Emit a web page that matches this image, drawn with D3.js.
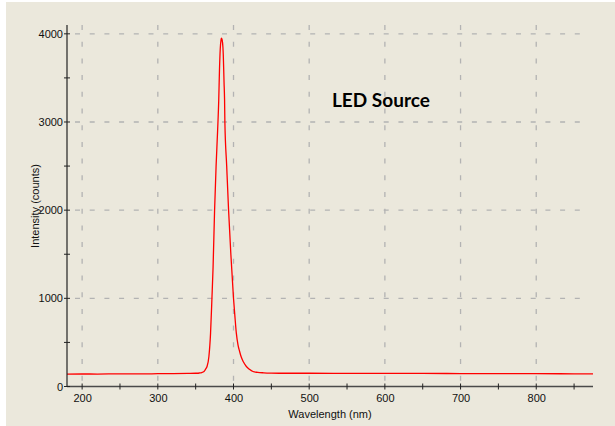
<!DOCTYPE html>
<html>
<head>
<meta charset="utf-8">
<script src="https://cdn.jsdelivr.net/npm/d3@7"></script>
<style>
  body { margin: 0; background: #fff; }
</style>
</head>
<body>
<div id="root"></div>
<script>
const WIDTH = 615;
const HEIGHT = 426;
const PLOT = {left: 67, right: 593, top: 25, bottom: 386.5};
const FONT = "Tahoma, 'Liberation Sans', Arial, sans-serif";

// spectrum (nm, counts)
const wavelengths = [180, 200, 220, 250, 280, 300, 320, 340, 350, 355, 358, 361, 363, 365, 367.5, 369.7,
    371.5, 373, 375, 377, 379, 380.5, 381.5, 382.5, 383.5, 384, 385, 386, 386.5, 387.5, 388.2, 388.6,
    391, 393.5, 396.5, 400, 402, 403.7, 406, 408, 410, 413, 417, 421, 425.7, 432, 440, 450, 470, 500,
    550, 600, 650, 700, 750, 800, 850, 875];
const counts = [140, 142, 141, 144, 143, 145, 146, 148, 150, 153, 158, 170, 195, 227, 340, 608,
    1000, 1350, 2000, 2500, 2900, 3250, 3600, 3830, 3930, 3950, 3930, 3850, 3760, 3450, 3250, 3000,
    2500, 2000, 1500, 1000, 780, 608, 470, 400, 340, 280, 227, 195, 170, 160, 155, 152, 150, 150,
    149, 148, 148, 147, 146, 145, 144, 143];

const xTicks = [200, 300, 400, 500, 600, 700, 800];
const xMinor = [250, 350, 450, 550, 650, 750, 850];
const yTicks = [0, 1000, 2000, 3000, 4000];
const yMinor = [500, 1500, 2500, 3500];

const data = wavelengths.map((w, i) => ({w: w, c: counts[i]}));

const x = d3.scaleLinear().domain([180, 875]).range([PLOT.left, PLOT.right]);
const y = d3.scaleLinear().domain([0, 4100]).range([PLOT.bottom, PLOT.top]);

const svg = d3.select("#root").append("svg")
    .attr("width", WIDTH)
    .attr("height", HEIGHT);

svg.append("rect")
    .attr("x", 6).attr("y", 2)
    .attr("width", WIDTH - 6).attr("height", HEIGHT - 2)
    .attr("fill", "#ebe8dc");

// dashed grid
svg.append("g").selectAll("line")
    .data(yTicks.filter(d => d > 0))
    .join("line")
    .attr("x1", PLOT.left + 8).attr("x2", 587)
    .attr("y1", d => y(d)).attr("y2", d => y(d))
    .attr("stroke", "#b3b3b3").attr("stroke-width", 1.3)
    .attr("stroke-dasharray", "5,9.7");

svg.append("g").selectAll("line")
    .data(xTicks)
    .join("line")
    .attr("x1", d => x(d)).attr("x2", d => x(d))
    .attr("y1", PLOT.top).attr("y2", PLOT.bottom)
    .attr("stroke", "#b3b3b3").attr("stroke-width", 1.3)
    .attr("stroke-dasharray", "5,11.7");

// spectrum
const line = d3.line()
    .x(d => x(d.w))
    .y(d => y(d.c))
    .curve(d3.curveMonotoneX);

svg.append("path")
    .datum(data)
    .attr("d", line)
    .attr("fill", "none")
    .attr("stroke", "#ff0000")
    .attr("stroke-width", 1.3);

// axes lines
svg.append("line")
    .attr("x1", PLOT.left).attr("x2", PLOT.right)
    .attr("y1", PLOT.bottom).attr("y2", PLOT.bottom)
    .attr("stroke", "#4a4a4a").attr("stroke-width", 1.5);
svg.append("line")
    .attr("x1", PLOT.left).attr("x2", PLOT.left)
    .attr("y1", PLOT.top).attr("y2", PLOT.bottom)
    .attr("stroke", "#222").attr("stroke-width", 1.2);

// ticks cross the axis
svg.append("g").selectAll("line")
    .data(xTicks.concat(xMinor))
    .join("line")
    .attr("x1", d => x(d)).attr("x2", d => x(d))
    .attr("y1", PLOT.bottom - 3).attr("y2", PLOT.bottom + 3)
    .attr("stroke", "#222");

svg.append("g").selectAll("line")
    .data(yTicks.concat(yMinor))
    .join("line")
    .attr("x1", PLOT.left - 3).attr("x2", PLOT.left + 3)
    .attr("y1", d => y(d)).attr("y2", d => y(d))
    .attr("stroke", "#222");

// tick labels
const xAxis = d3.axisBottom(x).tickValues(xTicks).tickFormat(d3.format("d")).tickSize(0).tickPadding(8);
const gx = svg.append("g")
    .attr("transform", `translate(0, ${PLOT.bottom})`)
    .call(xAxis);
gx.select(".domain").remove();
gx.attr("font-family", null).attr("font-size", null);
gx.selectAll("text")
    .style("font-family", FONT)
    .style("font-size", "11px").attr("fill", "#111");

const yAxis = d3.axisLeft(y).tickValues(yTicks).tickFormat(d3.format("d")).tickSize(0).tickPadding(4);
const gy = svg.append("g")
    .attr("transform", `translate(${PLOT.left}, 0)`)
    .call(yAxis);
gy.select(".domain").remove();
gy.attr("font-family", null).attr("font-size", null);
gy.selectAll("text")
    .style("font-family", FONT)
    .style("font-size", "11px").attr("fill", "#111");

// axis titles
svg.append("text")
    .attr("x", 330).attr("y", 418)
    .attr("text-anchor", "middle")
    .style("font-family", FONT).style("font-size", "11px")
    .attr("fill", "#111")
    .text("Wavelength (nm)");

svg.append("text")
    .attr("transform", "translate(39, 206) rotate(-90)")
    .attr("text-anchor", "middle")
    .style("font-family", FONT).style("font-size", "11px")
    .attr("fill", "#111")
    .text("Intensity (counts)");

svg.append("text")
    .attr("x", 332).attr("y", 107)
    .style("font-family", "Lato, 'Open Sans', sans-serif")
    .style("font-weight", 700)
    .style("font-size", "19px")
    .attr("fill", "#000")
    .text("LED Source");
</script>
</body>
</html>
